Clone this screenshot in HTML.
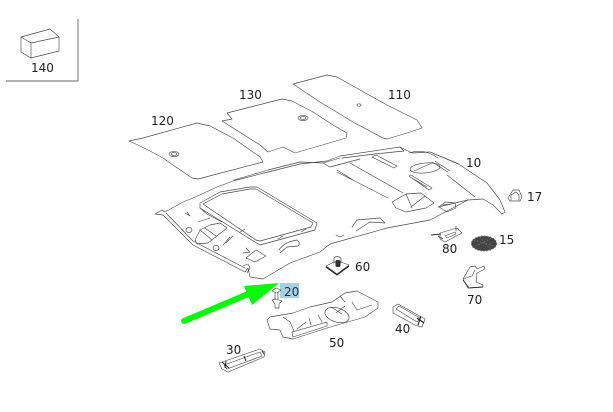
<!DOCTYPE html>
<html><head><meta charset="utf-8"><style>
html,body{margin:0;padding:0;background:#fff;width:613px;height:412px;overflow:hidden}
svg{display:block}
text{font-family:"DejaVu Sans",sans-serif;font-size:12px;fill:#222}
.l{fill:none;stroke:#484848;stroke-width:.65;stroke-linejoin:round;stroke-linecap:round}
.f{fill:#fff;stroke:#444;stroke-width:.65;stroke-linejoin:round}
.h{fill:none;stroke:#333;stroke-width:.9}
</style></head><body>
<svg width="613" height="412" viewBox="0 0 613 412" xmlns="http://www.w3.org/2000/svg">
<path d="M78 19V81H6" fill="none" stroke="#666" stroke-width=".9"/>
<path class="l" d="M21 37L50 29L59 37L31 43ZM21 37V52L31 58V43M31 58L59 51V37"/>
<text x="31" y="72">140</text>

<!-- panels -->
<path class="l" d="M129 141L143 138L197 123L210 126L233 138L260 157L263 162L198 179L192 178L163 158Q145 148 129 141Z"/>
<ellipse class="l" cx="174" cy="154" rx="5" ry="2.600"/><ellipse class="l" cx="174" cy="154" rx="2.800" ry="1.400"/>
<path class="l" d="M222 121L232 119L227 113L282 99L292 101L313 112L333 125L347 133L346 138L295 153L283 147L268 152L260 145Z"/>
<ellipse class="l" cx="303" cy="118" rx="5" ry="2.600"/><ellipse class="l" cx="303" cy="118" rx="2.800" ry="1.400"/>
<path class="l" d="M293 84L327 75L337 77L360 90L387 105L417 120L422 128L407 133L387 139L383 138L353 122L320 102Z"/>
<ellipse class="l" cx="359" cy="105" rx="2" ry="1.200"/>
<text x="151" y="125">120</text><text x="239" y="99">130</text><text x="388" y="99">110</text>

<!-- headliner -->
<path class="l" d="M155 214L162 210L165 212L183 202L193 198L217 187L233 181L268 172L300 164L327 161L340 156L400 147L412 153L430 152L457 163L487 183L500 200L505 212L502 214L493 205L483 199L468 200L430 220L387 228L330 244L320 252L290 263L263 279L250 277L248 268L245 272L193 245L163 215Z"/>
<path class="l" d="M166 213L193 241L245 268"/>
<path class="l" d="M234 180L268 170L300 162L323 163L330 167L360 159M323 163L340 158M337 170L353 180M337 172L388 198M350 163L403 193"/>
<path class="l" d="M400 147L404 151L375 154L342 158"/>
<path class="l" d="M372 157L376 155L397 166L394 168Z"/>
<path class="l" d="M409 153Q424 148 438 158M430 152L458 164M447 175L475 197"/>
<!-- sunroof -->
<path class="l" d="M200 203L220 192L250 187L257 187L317 223L315 230L260 245L255 242L200 208Z"/>
<path class="l" d="M203 204L222 194L250 189L256 189L313 223L311 227L260 241L256 240Z"/>
<path class="l" d="M200 208L207 214L222 222M240 232L245 229M278 239L283 236M301 232L306 229"/>
<!-- rear details -->
<path class="l" d="M185 213L190 216L187 212M198 222L210 218M195 240L200 230L210 225L220 223L227 228L208 243L197 244ZM200 230L212 240M205 228L216 236M230 237L223 245M233 236L226 243"/>
<ellipse class="l" cx="189" cy="230" rx="3" ry="2.500"/><ellipse class="l" cx="216" cy="248" rx="3" ry="2.500"/>
<path class="l" d="M246 248L250 252L243 253M246 258L256 250L266 256L255 262ZM243 266L248 264L250 268L247 273"/>
<path class="l" d="M279 250Q284 242 297 240Q301 243 298 246L287 247L280 253"/>
<path class="l" d="M336 235Q340 238 344 235M352 227L357 220L380 218L385 223L370 222L356 231"/>
<!-- console front -->
<path class="l" d="M392 202L406 194L421 193L434 203L426 208L406 212L396 208ZM406 194L412 208M411 207L425 196"/>
<path class="l" d="M439 207L445 202L455 203L456 208L447 212ZM443 205L451 204"/>
<path class="l" d="M438 207L468 200"/>
<path class="l" d="M409 176L411 175L432 188L429 190ZM412 178L427 187"/>
<ellipse class="l" cx="425" cy="168" rx="15" ry="5" transform="rotate(-5 425 168)"/>
<path class="l" d="M414 171L432 163M432 162L448 172M435 161L450 171"/>
<text x="466" y="167">10</text>

<!-- 17 -->
<path class="l" d="M508 198L513 190L519 190L522 197L520 201L510 201Z"/><path class="l" d="M511 200V195L516 192L519 195V200"/>
<text x="527" y="201">17</text>
<!-- 80 -->
<path class="h" d="M431 235L441 234M438 236L443 239"/>
<path class="l" d="M440 233L457 228L462 233L445 242L440 239ZM445 236L455 232L456 234L447 238ZM456 226V231"/>
<text x="442" y="253">80</text>
<!-- 15 -->
<ellipse cx="484" cy="243.500" rx="12.700" ry="7.500" fill="#444"/>
<ellipse cx="484" cy="243.500" rx="12.700" ry="7.500" fill="none" stroke="#777" stroke-width="1" stroke-dasharray="1.500 1.500"/>
<path d="M474 240L494 246M476 246L492 238M480 237L490 249" stroke="#777" stroke-width=".7" stroke-dasharray="1.500 1.500" fill="none"/>
<text x="499" y="244">15</text>
<!-- 70 -->
<path class="l" d="M470 267L475 266L477 269L484 266L485 269L477 273L476 282L483 285L483 287L468 288L463 279ZM463 279L472 276L475 270"/>
<path d="M463 280L469 288L483 287" fill="none" stroke="#333" stroke-width="1"/>
<text x="467" y="304">70</text>
<!-- 60 -->
<path class="f" d="M326 266L334 262L341 262L349 265L337 274Z"/>
<path d="M326 267L337 275L349 266" fill="none" stroke="#222" stroke-width="1.100"/>
<rect x="335.500" y="260" width="5" height="7" rx="1.500" fill="#333"/><path class="l" d="M334 263V258Q337 255 341 258V263"/>
<text x="355" y="271">60</text>

<!-- 20 -->
<rect x="280" y="283" width="19" height="15" fill="#a6d1e2"/>
<path class="l" d="M272 291L276 288L281 290L277 293ZM275 293V299M278 292V299M272 300L276 299L282 301L279 304V308H275V304Z"/>
<text x="284" y="296" style="fill:#234">20</text>
<!-- arrow -->
<path d="M184 321L248 294" stroke="#00ff00" stroke-width="6" stroke-linecap="round" fill="none"/>
<path d="M279 283L244 286L252 305Z" fill="#00ff00"/>

<!-- 50 -->
<path class="l" d="M267 320L270 317L293 313L310 307L332 302L345 293L357 291L378 302L378 308L365 317L327 328L293 339L283 337L280 330L270 329Z"/>
<ellipse class="l" cx="337" cy="315" rx="12.500" ry="7" transform="rotate(18 337 315)"/>
<path class="l" d="M331 307L342 314M345 306L336 313"/>
<path class="l" d="M292 332L327 322L327 326L293 337ZM294 331L290 322L283 317M297 329L306 322M311 325L309 318M322 322L318 315M340 296L345 302M352 302L357 310L372 305"/>
<text x="329" y="347">50</text>
<!-- 40 -->
<path class="l" d="M393 307L398 304L425 319L422 327L415 325L393 313Z"/><path class="l" d="M396 309L399 306L420 318L417 322Z"/>
<path d="M417 318L424 323M421 316L418 325" stroke="#222" stroke-width="1.100"/>
<text x="395" y="333">40</text>
<!-- 30 -->
<path class="l" d="M219 363L260 349L265 352L264 357L228 372L222 369Z"/><path class="l" d="M224 365L260 352L262 356L227 369Z"/>
<path d="M222 362L229 368M226 361L225 368M244 356L246 361M262 351L264 354" stroke="#222" stroke-width="1"/>
<text x="226" y="354">30</text>
</svg>
</body></html>
